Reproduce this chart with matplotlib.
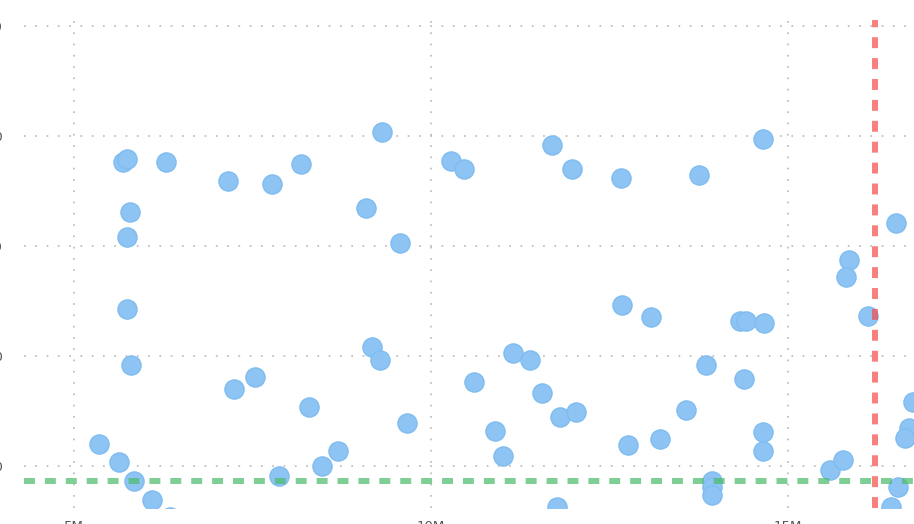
import matplotlib
matplotlib.use("Agg")
import matplotlib.pyplot as plt

# Data (x in millions)
x_vals = [5.350, 5.630, 5.840, 6.092, 6.345, 5.686, 5.742, 6.289, 5.784, 5.742,
          5.742, 5.798, 7.157, 7.773, 8.179, 9.314, 9.090, 9.566, 7.241, 7.535,
          8.291, 7.871, 8.473, 8.697, 9.174, 9.286, 9.664, 10.280, 10.462, 11.695,
          11.975, 12.661, 13.754, 14.650, 10.602, 10.897, 11.009, 11.149, 11.387, 11.555,
          11.807, 12.031, 11.765, 12.675, 13.081, 12.759, 13.207, 13.571, 13.852, 13.936,
          13.936, 13.936, 14.328, 14.412, 14.664, 14.384, 14.650, 14.650, 15.588, 15.770,
          15.854, 15.812, 16.120, 16.513, 16.751, 16.695, 16.639, 16.541, 16.443]
y_vals = [12.00, 10.36, 8.64, 6.91, 5.36, 37.64, 37.91, 37.64, 33.09, 30.82,
          24.27, 19.18, 35.91, 35.64, 37.45, 40.36, 33.45, 30.27, 17.00, 18.09,
          15.36, 9.09, 10.00, 11.36, 20.82, 19.64, 13.91, 37.73, 37.00, 39.18,
          37.00, 36.18, 36.45, 39.73, 17.64, 13.18, 10.91, 20.27, 19.64, 16.64,
          14.45, 14.91, 6.27, 24.64, 23.55, 11.91, 12.45, 15.09, 19.18, 8.64,
          8.09, 7.36, 23.18, 23.18, 23.00, 17.91, 13.09, 11.36, 9.64, 10.55,
          28.73, 27.18, 23.64, 32.09, 15.82, 13.45, 12.55, 8.09, 6.27]

x_threshold = 16.22
y_threshold = 8.64

x_ticks = [5, 10, 15]
x_tick_labels = ["5M", "10M", "15M"]
y_ticks = [10, 20, 30, 40, 50]
y_tick_labels = ["10", "20", "30", "40", "50"]

W, H = 914, 524
fig = plt.figure(figsize=(W / 100, H / 100), dpi=100)
left_px, right_px, top_px, bottom_px = 24, 940, 20, 508
ax = fig.add_axes([left_px / W, (H - bottom_px) / H,
                   (right_px - left_px) / W, (bottom_px - top_px) / H])

ax.scatter(x_vals, y_vals, s=190, facecolor="#8DC4F3",
           edgecolor="#7FBCF0", linewidth=1.0, zorder=3)

ax.axhline(y_threshold, color="#4CBB6C", alpha=0.72, lw=4.3,
           linestyle=(0, (1.83, 1.67)), zorder=4)
ax.axvline(x_threshold, color="#F84A4A", alpha=0.7, lw=4.3,
           linestyle=(0, (1.83, 1.67)), zorder=4)

ax.set_xlim(4.2997, 17.129)
ax.set_ylim(6.1818, 50.545)
ax.set_xticks(x_ticks)
ax.set_xticklabels(x_tick_labels)
ax.set_yticks(y_ticks)
ax.set_yticklabels(y_tick_labels)

for s in ax.spines.values():
    s.set_visible(False)
ax.tick_params(axis="both", length=0, labelsize=9.5, labelcolor="#555555")
ax.tick_params(axis="y", pad=15.1)
ax.tick_params(axis="x", pad=8.5)
ax.grid(True, color="#bdbdbd", lw=1.25, linestyle=(0, (1, 5.5)), zorder=0)
ax.set_axisbelow(True)

fig.savefig("out.png", dpi=100)
